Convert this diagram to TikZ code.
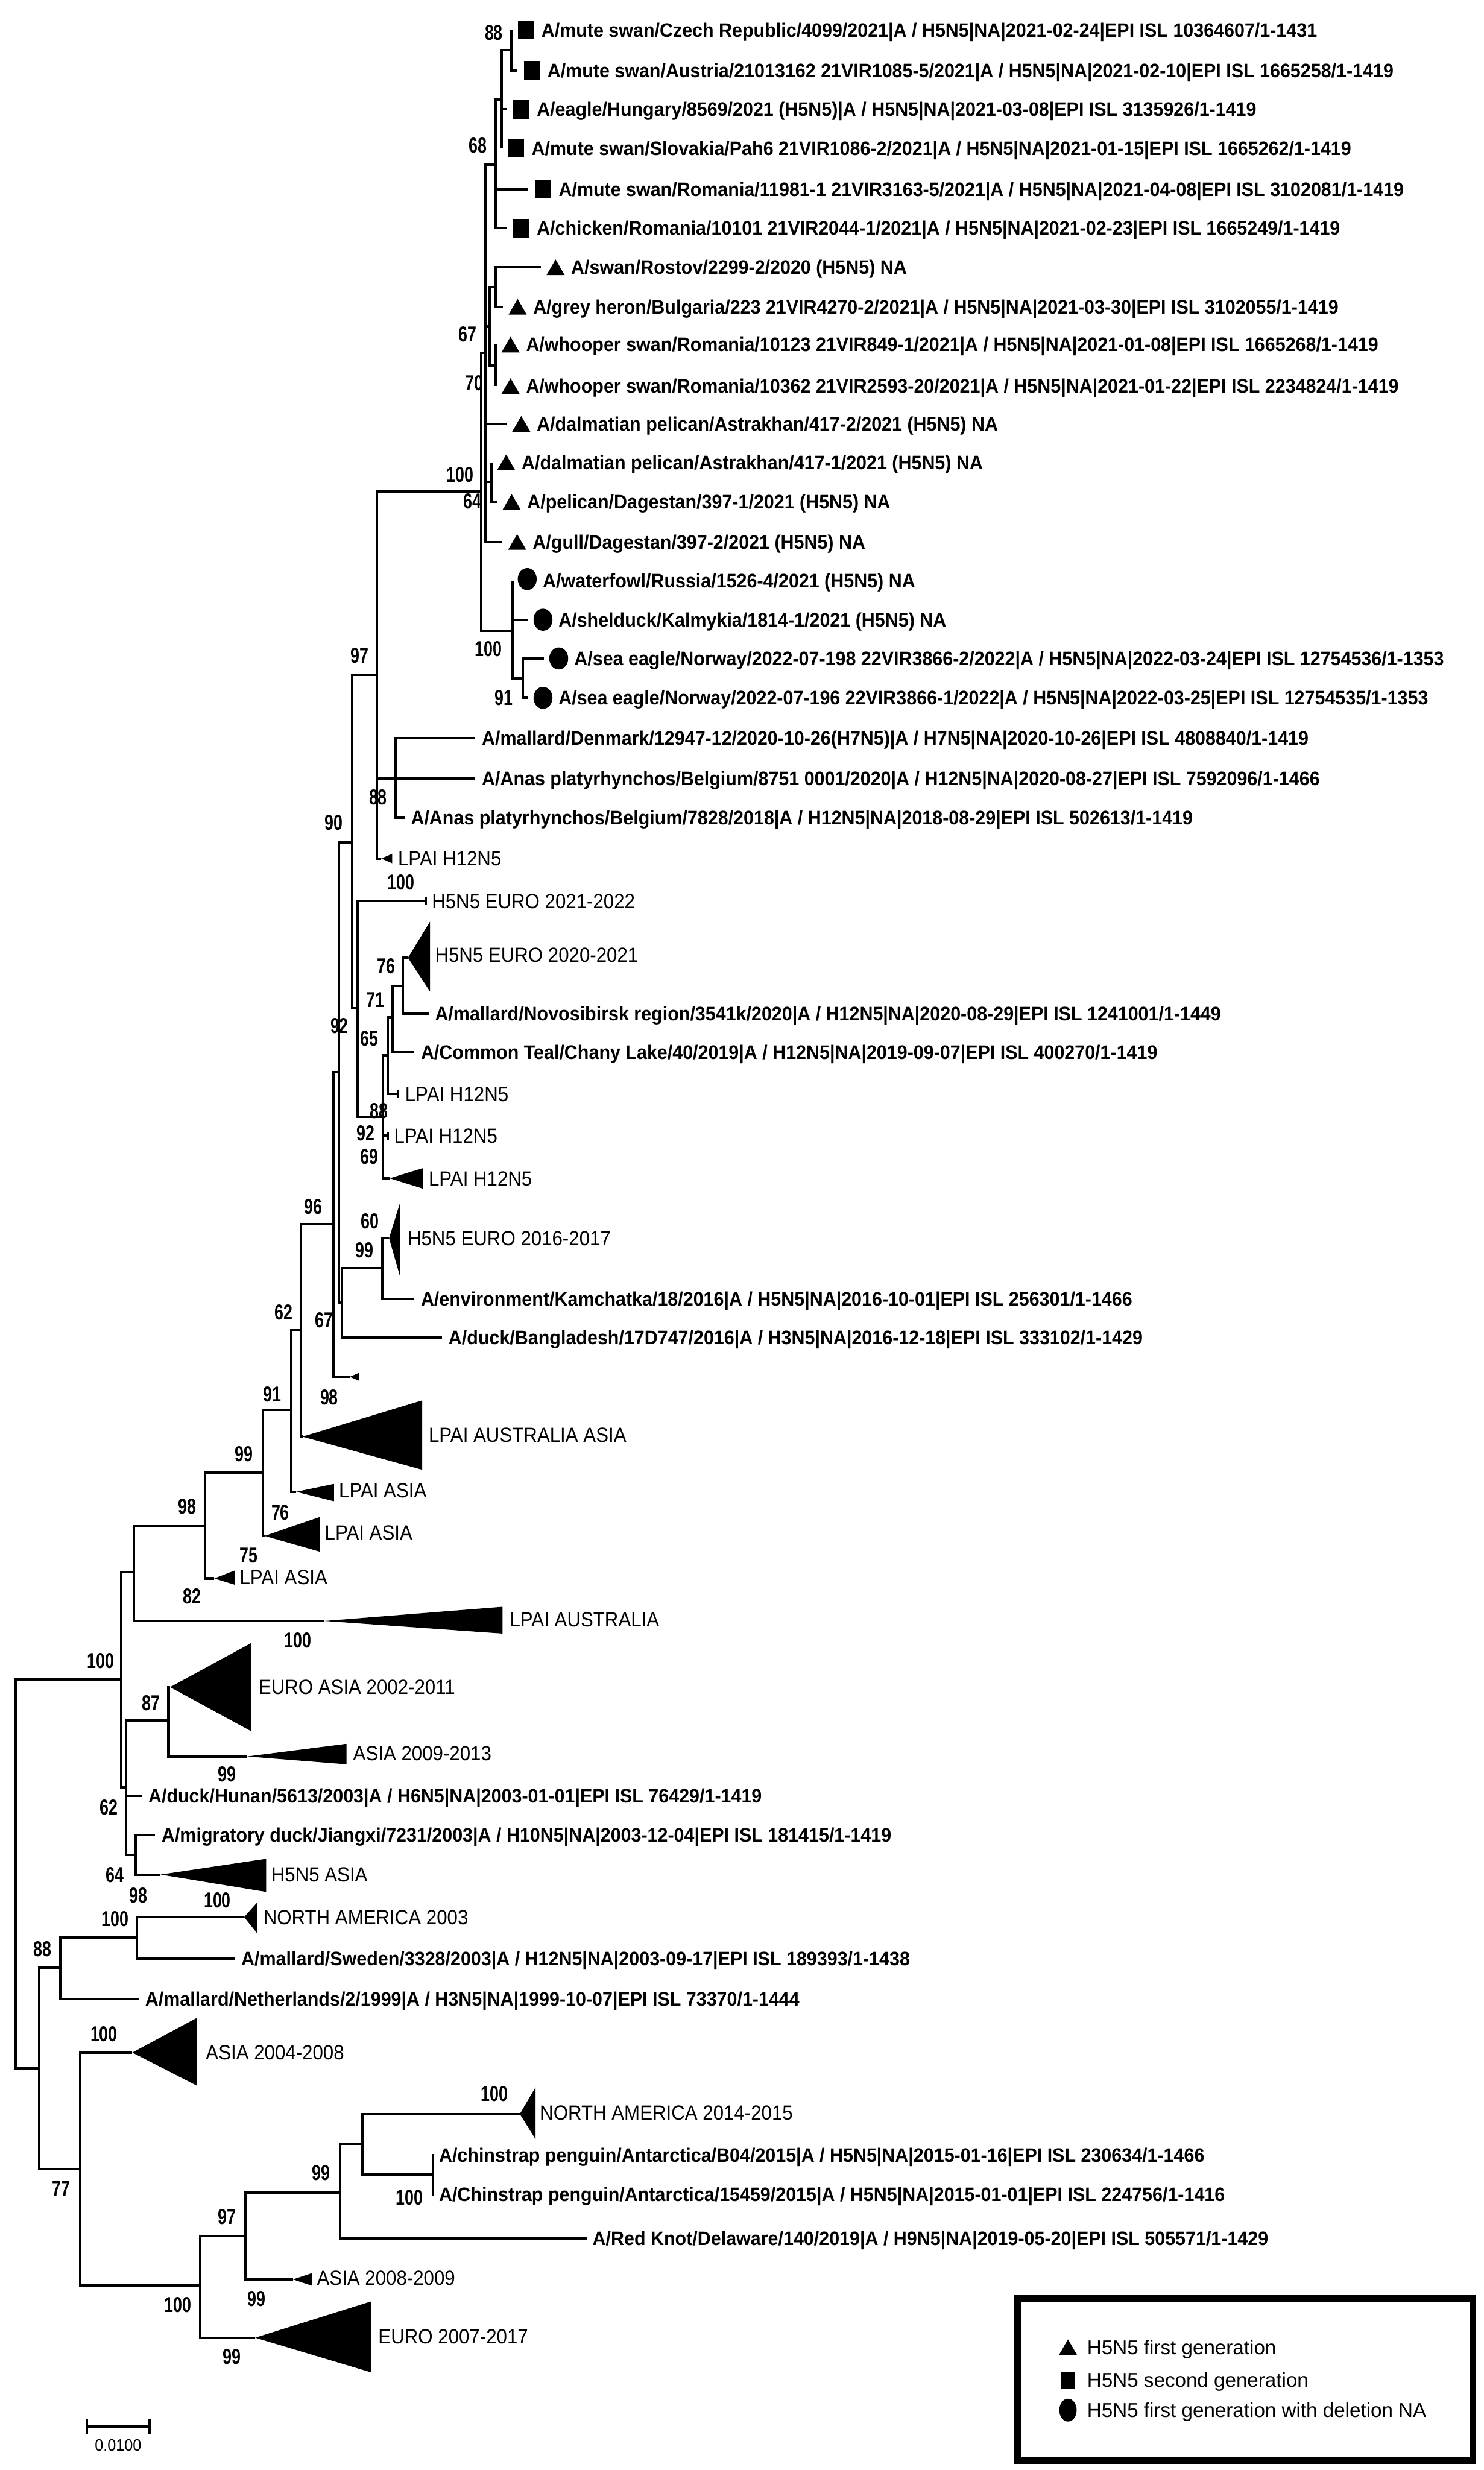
\documentclass[tikz,border=0pt]{standalone}
\usepackage{fontspec}
\setmainfont{Liberation Sans}
\newfontfamily\leaffont{Liberation Sans}[FakeStretch=0.94]
\newfontfamily\legfont{Liberation Sans}
\newfontfamily\bootfont{Liberation Sans}[FakeStretch=0.75]
\newfontfamily\cladefont{Liberation Sans}[FakeStretch=0.92]
\usetikzlibrary{positioning,calc,shapes.geometric}

\begin{document}
\begin{tikzpicture}[
  x=1pt, y=-1pt,
  br/.style={line width=1.6pt},
  tip/.style={fill=black},
  leaf/.style={anchor=west, inner sep=0pt, text height=8.9pt, text depth=0pt,
    font=\leaffont\bfseries\fontsize{12.4}{14}\selectfont},
  clade/.style={anchor=west, inner sep=0pt, text height=9.3pt, text depth=0pt,
    font=\cladefont\fontsize{13}{15}\selectfont},
  boot/.style={inner sep=0pt, text height=9.8pt, text depth=0pt,
    font=\bootfont\bfseries\fontsize{13.7}{15}\selectfont},
  legtext/.style={anchor=west, inner sep=0pt, text height=9pt, text depth=0pt,
    font=\legfont\fontsize{12.7}{14}\selectfont},
  sq/.style={fill=black, minimum width=10pt, minimum height=12pt, inner sep=0pt},
  tr/.style={fill=black, regular polygon, regular polygon sides=3,
    minimum size=13.3pt, inner sep=0pt},
  ci/.style={fill=black, ellipse, minimum width=12pt, minimum height=14pt, inner sep=0pt},
]
\fill[white] (0,0) rectangle (942,1568);
\useasboundingbox (0,0) rectangle (942,1568);

% internal nodes
\coordinate (nRoot) at (10,1189.5);
\coordinate (nA) at (77,1066);
\coordinate (nC) at (85,998);
\coordinate (nD) at (130,969);
\coordinate (nE) at (167,935);
\coordinate (nF) at (185,895);
\coordinate (nG) at (191,844.5);
\coordinate (n96) at (211.5,777);
\coordinate (n92) at (215,680.5);
\coordinate (n90) at (223.5,535);
\coordinate (n97) at (239.3,428.5);
\coordinate (nH) at (305.5,311.8);
\coordinate (nI) at (308,224);
\coordinate (n68) at (314.5,104.3);
\coordinate (nX) at (318.3,63);
\coordinate (n88a) at (324.5,31.9);
\coordinate (n67b) at (311,207.3);
\coordinate (nRH) at (314.5,182.2);
\coordinate (nWS) at (314.8,231.8);
\coordinate (nPel) at (312,306);
\coordinate (nSE) at (325.4,400.3);
\coordinate (nSE2) at (332,430.5);
\coordinate (n88b) at (251,494);
\coordinate (n227) at (227,640);
\coordinate (n88) at (243,709);
\coordinate (n65) at (246,670);
\coordinate (n71) at (249.3,646);
\coordinate (n76) at (255.8,625.8);
\coordinate (n67) at (217,827);
\coordinate (n99) at (242.7,805);
\coordinate (nB) at (80,1134.5);
\coordinate (n87) at (107,1092);
\coordinate (n64) at (86,1177.5);
\coordinate (nN) at (25,1313);
\coordinate (n88c) at (38.5,1249);
\coordinate (n100d) at (87,1230);
\coordinate (n77) at (51,1377);
\coordinate (n100e) at (127,1451);
\coordinate (n97b) at (156,1419.5);
\coordinate (n99b) at (216,1392);
\coordinate (n230) at (230,1361);
\coordinate (n275) at (275,1380.5);

% leaf ends
\coordinate (L1) at (324.5,19);
\coordinate (L2) at (328.3,44.8);
\coordinate (L3) at (321.6,69.4);
\coordinate (L4) at (318.3,94);
\coordinate (L5) at (335.5,120);
\coordinate (L6) at (321.6,144.8);
\coordinate (L7) at (343.4,169.6);
\coordinate (L8) at (319.3,194.7);
\coordinate (L9) at (314.8,218.7);
\coordinate (L10) at (314.8,245);
\coordinate (L11) at (321.6,269);
\coordinate (L12) at (312,293.5);
\coordinate (L13) at (315.5,318.6);
\coordinate (L14) at (319,344);
\coordinate (L15) at (325.4,368.6);
\coordinate (L16) at (335.4,393.4);
\coordinate (L17) at (345.4,418);
\coordinate (L18) at (335.4,443);
\coordinate (L19) at (301.7,468.5);
\coordinate (L20) at (301.7,494);
\coordinate (L21) at (256.7,519);
\coordinate (L22) at (242,545);
\coordinate (L23) at (270.7,572);
\coordinate (L24) at (259,608);
\coordinate (L25) at (272,643.6);
\coordinate (L26) at (263,668);
\coordinate (L27) at (253,694.5);
\coordinate (L28) at (246.5,721);
\coordinate (L29) at (247.4,748);
\coordinate (L30) at (247,786);
\coordinate (L31) at (263,824.5);
\coordinate (L32) at (280.6,849);
\coordinate (L33) at (222,874);
\coordinate (L34) at (192,912);
\coordinate (L35) at (188,947);
\coordinate (L36) at (168,975);
\coordinate (L37) at (136,1002);
\coordinate (L38) at (206,1029);
\coordinate (L39) at (108,1071);
\coordinate (L40) at (157,1115);
\coordinate (L41) at (90,1140);
\coordinate (L42) at (98.4,1165);
\coordinate (L43) at (102,1190);
\coordinate (L44) at (155,1217);
\coordinate (L45) at (149,1243.5);
\coordinate (L46) at (88,1269);
\coordinate (L47) at (84,1303);
\coordinate (L48) at (330,1342);
\coordinate (L49) at (275.5,1368);
\coordinate (L50) at (275.5,1393);
\coordinate (L51) at (373,1421);
\coordinate (L52) at (186,1447);
\coordinate (L53) at (162,1484);

\foreach \p/\c in {nRoot/nA, nRoot/nN, nA/nC, nA/nB, nC/nD, nC/L38, nD/nE, nD/L37,
    nE/nF, nE/L36, nF/nG, nF/L35, nG/n96, nG/L34, n96/n92, n96/L33,
    n92/n90, n92/n67, n67/n99, n67/L32, n99/L30, n99/L31, n90/n97, n90/n227,
    n97/nH, n97/n88b, n97/L22, n88b/L19, n88b/L20, n88b/L21, nH/nI, nH/nSE,
    nI/n68, nI/n67b, nI/L11, nI/nPel, nI/L14, n68/nX, n68/L5, n68/L6,
    nX/n88a, nX/L3, nX/L4, n88a/L1, n88a/L2, n67b/nRH, n67b/nWS,
    nRH/L7, nRH/L8, nWS/L9, nWS/L10, nPel/L12, nPel/L13,
    nSE/L15, nSE/L16, nSE/nSE2, nSE2/L17, nSE2/L18,
    n227/L23, n227/n88, n88/n65, n88/L28, n88/L29, n65/n71, n65/L27,
    n71/n76, n71/L26, n76/L24, n76/L25,
    nB/n87, nB/L41, nB/n64, n87/L39, n87/L40, n64/L42, n64/L43,
    nN/n88c, nN/n77, n88c/n100d, n88c/L46, n100d/L44, n100d/L45,
    n77/L47, n77/n100e, n100e/n97b, n100e/L53, n97b/n99b, n97b/L52,
    n99b/n230, n99b/L51, n230/L48, n230/n275, n275/L49, n275/L50}
  \draw[br] (\p) |- (\c);

% collapsed clades
\fill[tip] (L22) -- (249,542) -- (249,548) -- cycle;
\draw[br] (270.2,569.5) -- (270.2,574.5);
\fill[tip] (L24) -- (273,585) -- (273,629.5) -- cycle;
\draw[br] (252.5,692) -- (252.5,697);
\draw[br] (246,718.5) -- (246,723.5);
\fill[tip] (L29) -- (268.3,741.6) -- (268.3,754.5) -- cycle;
\fill[tip] (L30) -- (254,763.4) -- (254,810.5) -- cycle;
\fill[tip] (L33) -- (228,871.5) -- (228,876.5) -- cycle;
\fill[tip] (L34) -- (268,889) -- (268,933) -- cycle;
\fill[tip] (L35) -- (212,942) -- (212,953) -- cycle;
\fill[tip] (L36) -- (203,963) -- (203,985) -- cycle;
\fill[tip] (L37) -- (149,997) -- (149,1006) -- cycle;
\fill[tip] (L38) -- (319,1020) -- (319,1037) -- cycle;
\fill[tip] (L39) -- (159.5,1043) -- (159.5,1099) -- cycle;
\fill[tip] (L40) -- (220,1107) -- (220,1120) -- cycle;
\fill[tip] (L43) -- (169,1180) -- (169,1201) -- cycle;
\fill[tip] (L44) -- (163,1208) -- (163,1227) -- cycle;
\fill[tip] (L47) -- (125,1281) -- (125,1324) -- cycle;
\fill[tip] (L48) -- (340,1325) -- (340,1358) -- cycle;
\fill[tip] (L52) -- (198,1443) -- (198,1451) -- cycle;
\fill[tip] (L53) -- (235.6,1461) -- (235.6,1506) -- cycle;

% marked strains
\node[sq] (s1) at ($(L1)+(9.3,0)$) {};
\node[sq] (s2) at ($(L2)+(9.3,0)$) {};
\node[sq] (s3) at ($(L3)+(9.3,0)$) {};
\node[sq] (s4) at ($(L4)+(9.3,0)$) {};
\node[sq] (s5) at ($(L5)+(9.3,0)$) {};
\node[sq] (s6) at ($(L6)+(9.3,0)$) {};
\node[tr] (s7) at ($(L7)+(9.3,1.7)$) {};
\node[tr] (s8) at ($(L8)+(9.3,1.7)$) {};
\node[tr] (s9) at ($(L9)+(9.3,1.7)$) {};
\node[tr] (s10) at ($(L10)+(9.3,1.7)$) {};
\node[tr] (s11) at ($(L11)+(9.3,1.7)$) {};
\node[tr] (s12) at ($(L12)+(9.3,1.7)$) {};
\node[tr] (s13) at ($(L13)+(9.3,1.7)$) {};
\node[tr] (s14) at ($(L14)+(9.3,1.7)$) {};
\node[ci] (s15) at ($(L15)+(9.3,-1)$) {};
\node[ci] (s16) at ($(L16)+(9.3,0)$) {};
\node[ci] (s17) at ($(L17)+(9.3,0)$) {};
\node[ci] (s18) at ($(L18)+(9.3,0)$) {};

\node[leaf, right=19pt of L1] (t1) {A/mute swan/Czech Republic/4099/2021|A / H5N5|NA|2021-02-24|EPI ISL 10364607/1-1431};
\node[leaf, right=19pt of L2] (t2) {A/mute swan/Austria/21013162 21VIR1085-5/2021|A / H5N5|NA|2021-02-10|EPI ISL 1665258/1-1419};
\node[leaf, right=19pt of L3] (t3) {A/eagle/Hungary/8569/2021 (H5N5)|A / H5N5|NA|2021-03-08|EPI ISL 3135926/1-1419};
\node[leaf, right=19pt of L4] (t4) {A/mute swan/Slovakia/Pah6 21VIR1086-2/2021|A / H5N5|NA|2021-01-15|EPI ISL 1665262/1-1419};
\node[leaf, right=19pt of L5] (t5) {A/mute swan/Romania/11981-1 21VIR3163-5/2021|A / H5N5|NA|2021-04-08|EPI ISL 3102081/1-1419};
\node[leaf, right=19pt of L6] (t6) {A/chicken/Romania/10101 21VIR2044-1/2021|A / H5N5|NA|2021-02-23|EPI ISL 1665249/1-1419};
\node[leaf, right=19pt of L7] (t7) {A/swan/Rostov/2299-2/2020 (H5N5) NA};
\node[leaf, right=19pt of L8] (t8) {A/grey heron/Bulgaria/223 21VIR4270-2/2021|A / H5N5|NA|2021-03-30|EPI ISL 3102055/1-1419};
\node[leaf, right=19pt of L9] (t9) {A/whooper swan/Romania/10123 21VIR849-1/2021|A / H5N5|NA|2021-01-08|EPI ISL 1665268/1-1419};
\node[leaf, right=19pt of L10] (t10) {A/whooper swan/Romania/10362 21VIR2593-20/2021|A / H5N5|NA|2021-01-22|EPI ISL 2234824/1-1419};
\node[leaf, right=19pt of L11] (t11) {A/dalmatian pelican/Astrakhan/417-2/2021 (H5N5) NA};
\node[leaf, right=19pt of L12] (t12) {A/dalmatian pelican/Astrakhan/417-1/2021 (H5N5) NA};
\node[leaf, right=19pt of L13] (t13) {A/pelican/Dagestan/397-1/2021 (H5N5) NA};
\node[leaf, right=19pt of L14] (t14) {A/gull/Dagestan/397-2/2021 (H5N5) NA};
\node[leaf, right=19pt of L15] (t15) {A/waterfowl/Russia/1526-4/2021 (H5N5) NA};
\node[leaf, right=19pt of L16] (t16) {A/shelduck/Kalmykia/1814-1/2021 (H5N5) NA};
\node[leaf, right=19pt of L17] (t17) {A/sea eagle/Norway/2022-07-198 22VIR3866-2/2022|A / H5N5|NA|2022-03-24|EPI ISL 12754536/1-1353};
\node[leaf, right=19pt of L18] (t18) {A/sea eagle/Norway/2022-07-196 22VIR3866-1/2022|A / H5N5|NA|2022-03-25|EPI ISL 12754535/1-1353};

% other strains
\node[leaf, right=4pt of L19] (t19) {A/mallard/Denmark/12947-12/2020-10-26(H7N5)|A / H7N5|NA|2020-10-26|EPI ISL 4808840/1-1419};
\node[leaf, right=4pt of L20] (t20) {A/Anas platyrhynchos/Belgium/8751 0001/2020|A / H12N5|NA|2020-08-27|EPI ISL 7592096/1-1466};
\node[leaf, right=4pt of L21] (t21) {A/Anas platyrhynchos/Belgium/7828/2018|A / H12N5|NA|2018-08-29|EPI ISL 502613/1-1419};
\node[leaf, right=4pt of L25] (t25) {A/mallard/Novosibirsk region/3541k/2020|A / H12N5|NA|2020-08-29|EPI ISL 1241001/1-1449};
\node[leaf, right=4pt of L26] (t26) {A/Common Teal/Chany Lake/40/2019|A / H12N5|NA|2019-09-07|EPI ISL 400270/1-1419};
\node[leaf, right=4pt of L31] (t31) {A/environment/Kamchatka/18/2016|A / H5N5|NA|2016-10-01|EPI ISL 256301/1-1466};
\node[leaf, right=4pt of L32] (t32) {A/duck/Bangladesh/17D747/2016|A / H3N5|NA|2016-12-18|EPI ISL 333102/1-1429};
\node[leaf, right=4pt of L41] (t41) {A/duck/Hunan/5613/2003|A / H6N5|NA|2003-01-01|EPI ISL 76429/1-1419};
\node[leaf, right=4pt of L42] (t42) {A/migratory duck/Jiangxi/7231/2003|A / H10N5|NA|2003-12-04|EPI ISL 181415/1-1419};
\node[leaf, right=4pt of L45] (t45) {A/mallard/Sweden/3328/2003|A / H12N5|NA|2003-09-17|EPI ISL 189393/1-1438};
\node[leaf, right=4pt of L46] (t46) {A/mallard/Netherlands/2/1999|A / H3N5|NA|1999-10-07|EPI ISL 73370/1-1444};
\node[leaf, right=3pt of L49] (t49) {A/chinstrap penguin/Antarctica/B04/2015|A / H5N5|NA|2015-01-16|EPI ISL 230634/1-1466};
\node[leaf, right=3pt of L50] (t50) {A/Chinstrap penguin/Antarctica/15459/2015|A / H5N5|NA|2015-01-01|EPI ISL 224756/1-1416};
\node[leaf, right=3pt of L51] (t51) {A/Red Knot/Delaware/140/2019|A / H9N5|NA|2019-05-20|EPI ISL 505571/1-1429};

% clade names
\node[clade] (c22) at (252.5,545) {LPAI H12N5};
\node[clade] (c23) at (274,572) {H5N5 EURO 2021-2022};
\node[clade] (c24) at (276,606) {H5N5 EURO 2020-2021};
\node[clade] (c27) at (257,694.5) {LPAI H12N5};
\node[clade] (c28) at (250,721) {LPAI H12N5};
\node[clade] (c29) at (272,748) {LPAI H12N5};
\node[clade] (c30) at (258.6,786) {H5N5 EURO 2016-2017};
\node[clade] (c34) at (272,911) {LPAI AUSTRALIA ASIA};
\node[clade] (c35) at (215,946) {LPAI ASIA};
\node[clade] (c36) at (206,973) {LPAI ASIA};
\node[clade] (c37) at (152,1001) {LPAI ASIA};
\node[clade] (c38) at (323.5,1028) {LPAI AUSTRALIA};
\node[clade] (c39) at (164,1071) {EURO ASIA 2002-2011};
\node[clade] (c40) at (224,1113) {ASIA 2009-2013};
\node[clade] (c43) at (172,1190) {H5N5 ASIA};
\node[clade] (c44) at (167,1217) {NORTH AMERICA 2003};
\node[clade] (c47) at (130.5,1303) {ASIA 2004-2008};
\node[clade] (c48) at (342.5,1341) {NORTH AMERICA 2014-2015};
\node[clade] (c52) at (201,1446) {ASIA 2008-2009};
\node[clade] (c53) at (240,1483) {EURO 2007-2017};

% bootstrap values
\foreach [count=\i] \bx/\by/\bv in {313.5/20.5/88, 303.5/92/68, 297/212/67, 301/243/70,
    292/301/100, 300/318/64, 310/411.7/100, 319.7/442.8/91, 228.4/416/97, 240/506/88,
    212/522/90, 254.6/560/100, 245/613/76, 238.4/634.6/71, 215.5/651/92, 234.6/659/65,
    240.7/705/88, 232/719/92, 234.6/734/69, 199/766/96, 234.7/775/60, 231.4/793.6/99,
    180/833/62, 205.6/838/67, 173/885/91, 209/887/98, 155/923/99, 119/956/98,
    178/960/76, 158/987/75, 122/1013/82, 189/1041/100, 64/1054/100, 96/1081/87,
    144/1126/99, 69/1147/62, 73/1190/64, 88/1203/98, 138/1206/100, 73/1218/100,
    27/1237/88, 66/1291/100, 314/1329/100, 204/1379/99, 260/1395/100, 39/1389/77,
    144/1407/97, 163/1459/99, 113/1463/100, 147/1496/99}
  \node[boot] (bs\i) at (\bx,\by) {\bv};

% scale bar
\coordinate (sb1) at (55,1540.4);
\coordinate (sb2) at (95,1540.4);
\draw[br] (sb1) -- (sb2);
\draw[br] ($(sb1)+(0,-4.8)$) -- ($(sb1)+(0,4.8)$);
\draw[br] ($(sb2)+(0,-4.8)$) -- ($(sb2)+(0,4.8)$);
\node[inner sep=0pt, text height=7.5pt, text depth=0pt,
  font=\cladefont\fontsize{10.5}{12}\selectfont] (sblab) at (75,1552) {0.0100};

% legend
\draw[line width=4pt] (646,1459) rectangle (935,1562);
\node[tr] (lg1) at (678,1491.7) {};
\node[sq, minimum width=9pt, minimum height=10.5pt] (lg2) at (678,1511) {};
\node[ci, minimum width=11pt, minimum height=14.5pt] (lg3) at (678,1530) {};
\node[legtext] (lt1) at (690,1490) {H5N5 first generation};
\node[legtext] (lt2) at (690,1511) {H5N5 second generation};
\node[legtext] (lt3) at (690,1530) {H5N5 first generation with deletion NA};
\end{tikzpicture}
\end{document}
